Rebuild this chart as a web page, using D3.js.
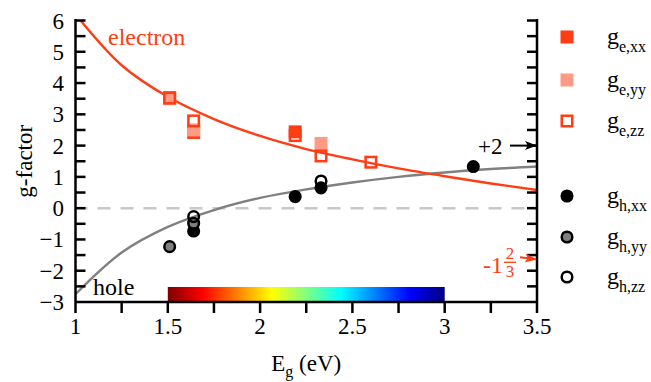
<!DOCTYPE html>
<html>
<head>
<meta charset="utf-8">
<script src="https://cdn.jsdelivr.net/npm/d3@7"></script>
<style>
  body { margin: 0; background: #fff; }
  svg text { font-family: 'Liberation Serif', 'Times New Roman', Times, serif; }
</style>
</head>
<body>
<svg id="fig_g" width="651" height="382"></svg>
<script>
'use strict';

// measured points (band gap in eV, g-factor)
const eg_e = [1.51, 1.64, 2.19, 2.33, 2.6];
const ge_xx = [3.53, 2.42, 2.44, null, null];
const ge_yy = [3.5, 2.5, null, 2.07, null];
const ge_zz = [3.52, 2.79, 2.32, 1.67, 1.47];

const eg_h = [1.51, 1.64, 2.19, 2.33, 3.155];
const gh_xx = [null, -0.73, 0.37, 0.65, 1.33];
const gh_yy = [-1.23, -0.48, null, null, null];
const gh_zz = [null, -0.27, null, 0.87, null];

// model curves
const fit_eg = [1.0, 1.25, 1.5, 1.75, 2.0, 2.25, 2.5, 2.75, 3.0, 3.25, 3.5];
const fit_e = [6.2, 4.57, 3.56, 2.85, 2.31, 1.89, 1.56, 1.27, 1.02, 0.79, 0.58];
const fit_h = [-2.75, -1.42, -0.6, -0.06, 0.33, 0.6, 0.82, 1.0, 1.14, 1.25, 1.33];

const x_ticks = [1, 1.5, 2, 2.5, 3, 3.5];
const y_ticks = [-3, -2, -1, 0, 1, 2, 3, 4, 5, 6];

// colour bar: photon energy range and (reversed jet) stops
const bar_range = [1.5, 3.0];
const bar_colors = ['#7f0000', '#ff0000', '#ffff00', '#00ffff', '#0000ff', '#00007f'];
const bar_offsets = [0, 0.125, 0.375, 0.625, 0.875, 1];

const c_red = '#ff3d14';
const c_light = '#ff9a85';
const font_size = 23;

const svg = d3.select('#fig_g');
const x = d3.scaleLinear().domain([1, 3.5]).range([75.5, 537]);
const y = d3.scaleLinear().domain([-3, 6]).range([302, 20.5]);

// clip for curves
svg.append('defs').append('clipPath').attr('id', 'clip')
  .append('rect')
  .attr('x', x(1)).attr('y', y(6))
  .attr('width', x(3.5) - x(1)).attr('height', y(-3) - y(6));

// arrow markers
function add_marker(id, color) {
  svg.select('defs').append('marker')
    .attr('id', id)
    .attr('viewBox', '0 -5 12 10')
    .attr('refX', 11).attr('refY', 0)
    .attr('markerWidth', 12).attr('markerHeight', 10)
    .attr('markerUnits', 'userSpaceOnUse')
    .attr('orient', 'auto')
    .append('path')
    .attr('d', 'M0,-4.5L12,0L0,4.5L3,0Z')
    .attr('fill', color);
}
add_marker('arr_k', '#000');
add_marker('arr_r', c_red);

// colour bar
const grad = svg.select('defs').append('linearGradient').attr('id', 'jet');
bar_colors.forEach(function(c, i) {
  grad.append('stop').attr('offset', bar_offsets[i]).attr('stop-color', c);
});
svg.append('rect')
  .attr('x', x(bar_range[0]))
  .attr('y', y(-2.52))
  .attr('width', x(bar_range[1]) - x(bar_range[0]))
  .attr('height', y(-3) - y(-2.52))
  .attr('fill', 'url(#jet)');

// zero line
svg.append('line')
  .attr('x1', x(1)).attr('x2', x(3.5))
  .attr('y1', y(0)).attr('y2', y(0))
  .attr('stroke', '#c8c8c8')
  .attr('stroke-width', 2.5)
  .attr('stroke-dasharray', '13,10')
  .attr('stroke-dashoffset', 1);

// curves
const line = function(vals) {
  return d3.line()
    .x(function(d, i) { return x(fit_eg[i]); })
    .y(function(d) { return y(d); })
    .curve(d3.curveCatmullRom)(vals);
};
svg.append('path').attr('d', line(fit_h))
  .attr('fill', 'none').attr('stroke', '#808080').attr('stroke-width', 2.4)
  .attr('clip-path', 'url(#clip)');
svg.append('path').attr('d', line(fit_e))
  .attr('fill', 'none').attr('stroke', c_red).attr('stroke-width', 2.4)
  .attr('clip-path', 'url(#clip)');

// axes
const g_ax = svg.append('g').attr('stroke', '#000').attr('stroke-width', 2.5);
g_ax.append('line').attr('x1', x(1)).attr('x2', x(3.5)).attr('y1', y(-3)).attr('y2', y(-3));
g_ax.append('line').attr('x1', x(1)).attr('x2', x(1)).attr('y1', y(6) - 1.5).attr('y2', y(-3));
g_ax.append('line').attr('x1', x(3.5)).attr('x2', x(3.5)).attr('y1', y(6) - 1.5).attr('y2', y(-3));

const x_minor = d3.range(1, 3.51, 0.25);
x_minor.forEach(function(v) {
  g_ax.append('line').attr('x1', x(v)).attr('x2', x(v))
    .attr('y1', y(-3)).attr('y2', y(-3) + 11);
});
const y_minor = d3.range(-3, 6.01, 0.5);
y_minor.forEach(function(v) {
  if (v == -3) return;
  g_ax.append('line').attr('x1', x(1)).attr('x2', x(1) + 10)
    .attr('y1', y(v)).attr('y2', y(v));
  g_ax.append('line').attr('x1', x(3.5)).attr('x2', x(3.5) - 10)
    .attr('y1', y(v)).attr('y2', y(v));
});

svg.selectAll('text.xt').data(x_ticks).enter().append('text')
  .attr('class', 'xt')
  .attr('x', function(d) { return x(d); })
  .attr('y', 334)
  .attr('font-size', font_size)
  .attr('text-anchor', 'middle')
  .text(function(d) { return String(d); });
svg.selectAll('text.yt').data(y_ticks).enter().append('text')
  .attr('class', 'yt')
  .attr('x', 64)
  .attr('y', function(d) { return y(d) + 8; })
  .attr('font-size', font_size)
  .attr('text-anchor', 'end')
  .text(function(d) { return d < 0 ? '\u2212' + (-d) : String(d); });

// axis titles
const xt = svg.append('text').attr('x', x(2.25)).attr('y', 371)
  .attr('font-size', font_size).attr('text-anchor', 'middle');
xt.append('tspan').text('E');
xt.append('tspan').attr('font-size', 16).attr('dy', 6).text('g');
xt.append('tspan').attr('dy', -6).text(' (eV)');

svg.append('text')
  .attr('transform', 'translate(32,' + y(1.5) + ') rotate(-90)')
  .attr('font-size', font_size)
  .attr('text-anchor', 'middle')
  .text('g-factor');

// labels in plot
svg.append('text').attr('x', 108).attr('y', 45).attr('font-size', 24)
  .attr('fill', c_red).text('electron');
svg.append('text').attr('x', 93).attr('y', 295).attr('font-size', 24)
  .attr('fill', '#000').text('hole');

// +2 annotation
svg.append('text').attr('x', 478).attr('y', y(2) + 8).attr('font-size', font_size).text('+2');
svg.append('line')
  .attr('x1', 510).attr('x2', x(3.5) - 1)
  .attr('y1', y(2)).attr('y2', y(2))
  .attr('stroke', '#000').attr('stroke-width', 2)
  .attr('marker-end', 'url(#arr_k)');

// -1 2/3 annotation
const y_fr = y(-5 / 3);
const g_fr = svg.append('g').attr('fill', c_red);
g_fr.append('text').attr('x', 483).attr('y', y_fr + 13).attr('font-size', 24).text('-1');
g_fr.append('text').attr('x', 510).attr('y', y_fr - 1).attr('font-size', 17)
  .attr('text-anchor', 'middle').text('2');
g_fr.append('line').attr('x1', 504).attr('x2', 516)
  .attr('y1', y_fr + 2).attr('y2', y_fr + 2)
  .attr('stroke', c_red).attr('stroke-width', 1.3);
g_fr.append('text').attr('x', 510).attr('y', y_fr + 17).attr('font-size', 17)
  .attr('text-anchor', 'middle').text('3');
svg.append('line')
  .attr('x1', 520).attr('x2', x(3.5) - 1)
  .attr('y1', y_fr - 3).attr('y2', y_fr - 1)
  .attr('stroke', c_red).attr('stroke-width', 2)
  .attr('marker-end', 'url(#arr_r)');

// marker styles (zz markers are hollow)
const e_series = [
  { vals: ge_xx, fill: c_red, stroke: c_red, sub: 'e,xx' },
  { vals: ge_yy, fill: c_light, stroke: c_light, sub: 'e,yy' },
  { vals: ge_zz, fill: 'none', stroke: c_red, sub: 'e,zz' }
];
const h_series = [
  { vals: gh_xx, fill: '#000', stroke: '#000', sub: 'h,xx' },
  { vals: gh_yy, fill: '#808080', stroke: '#000', sub: 'h,yy' },
  { vals: gh_zz, fill: 'none', stroke: '#000', sub: 'h,zz' }
];
const sq = 10.5, rr = 5.3;

function draw_square(g, cx, cy, s) {
  g.append('rect')
    .attr('x', cx - sq / 2).attr('y', cy - sq / 2)
    .attr('width', sq).attr('height', sq)
    .attr('fill', s.fill).attr('stroke', s.stroke).attr('stroke-width', 2.5);
}
function draw_circle(g, cx, cy, s) {
  g.append('circle')
    .attr('cx', cx).attr('cy', cy).attr('r', rr)
    .attr('fill', s.fill).attr('stroke', s.stroke).attr('stroke-width', 2.5);
}

const g_pts = svg.append('g');
h_series.forEach(function(s) {
  s.vals.forEach(function(v, i) {
    if (v === null) return;
    draw_circle(g_pts, x(eg_h[i]), y(v), s);
  });
});
e_series.forEach(function(s) {
  s.vals.forEach(function(v, i) {
    if (v === null) return;
    draw_square(g_pts, x(eg_e[i]), y(v), s);
  });
});

// legend
const leg_y = [37, 80, 121, 196, 237, 277];
const g_leg = svg.append('g');
e_series.concat(h_series).forEach(function(s, i) {
  if (i < 3) {
    draw_square(g_leg, 567, leg_y[i], s);
  } else {
    draw_circle(g_leg, 567, leg_y[i], s);
  }
  const t = g_leg.append('text').attr('x', 607).attr('y', leg_y[i] + 7)
    .attr('font-size', 24);
  t.append('tspan').text('g');
  t.append('tspan').attr('font-size', 16).attr('dy', 8).text(s.sub);
});
</script>
</body>
</html>
